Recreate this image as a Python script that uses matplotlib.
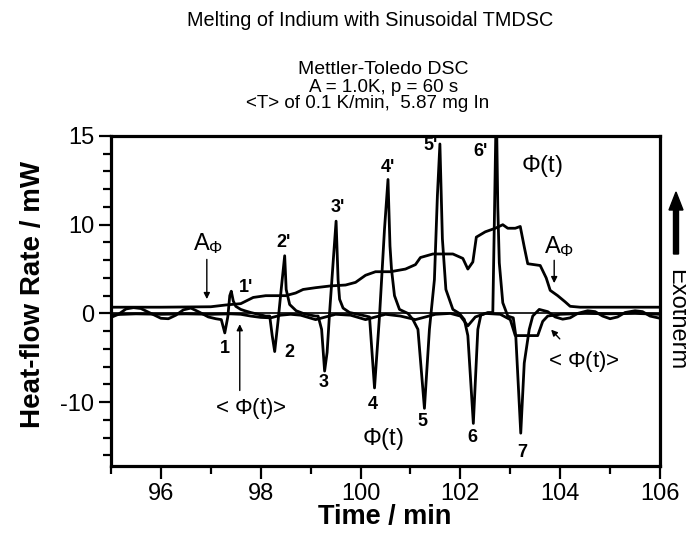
import matplotlib
matplotlib.use('Agg')
import matplotlib.pyplot as plt
from matplotlib.patches import FancyArrow
from matplotlib.ticker import MultipleLocator

plt.rcParams['font.family'] = ['Liberation Sans', 'DejaVu Sans']
plt.rcParams['mathtext.fontset'] = 'custom'
plt.rcParams['mathtext.rm'] = 'Liberation Sans'
plt.rcParams['mathtext.it'] = 'Liberation Sans:italic'
plt.rcParams['mathtext.bf'] = 'Liberation Sans:bold'

# modulated heat-flow rate Phi(t) (time in min, mW)
phi_time = [95.0, 95.15, 95.3, 95.45, 95.6, 95.8, 96.0, 96.15, 96.3, 96.45, 96.6, 96.75,
            96.95, 97.1, 97.21, 97.28, 97.34, 97.38, 97.41, 97.45, 97.5, 97.6, 97.68, 97.8,
            97.95, 98.1, 98.18, 98.23, 98.28, 98.35, 98.41, 98.48, 98.51, 98.58, 98.71, 98.85,
            99.0, 99.1, 99.15, 99.22, 99.28, 99.33, 99.38, 99.45, 99.51, 99.55, 99.58, 99.65,
            99.78, 99.95, 100.11, 100.18, 100.28, 100.38, 100.48, 100.55, 100.59, 100.62, 100.68,
            100.78, 100.95, 101.05, 101.15, 101.28, 101.38, 101.48, 101.54, 101.59, 101.64,
            101.71, 101.85, 101.98, 102.08, 102.15, 102.26, 102.35, 102.41, 102.55, 102.65,
            102.68, 102.72, 102.75, 102.78, 102.85, 102.95, 103.06, 103.11, 103.21, 103.28,
            103.38, 103.45, 103.58, 103.75, 103.9, 104.05, 104.2, 104.35, 104.55, 104.7,
            104.85, 105.0, 105.15, 105.3, 105.5, 105.65, 105.8, 106.0]
phi_flow = [-0.45, -0.1, 0.5, 0.65, 0.55, 0.0, -0.55, -0.6, -0.2, 0.4, 0.6, 0.2,
            -0.4, -0.6, -0.7, -2.2, -0.4, 2.0, 2.5, 1.4, 0.8, 0.45, 0.3, 0.1,
            -0.1, -0.3, -0.3, -2.5, -4.3, -0.7, 2.7, 6.5, 2.7, 1.0, 0.3, 0.0,
            -0.2, -0.3, -0.3, -1.8, -6.5, -4.4, 0.1, 5.7, 10.4, 3.8, 1.6, 0.6,
            0.1, -0.1, -0.3, -0.4, -8.4, -0.3, 9.5, 15.1, 7.6, 5.0, 2.0,
            0.45, 0.0, -0.7, -1.8, -10.7, -1.8, 3.8, 13.3, 19.1, 8.4,
            2.7, 0.45, 0.0, -0.7, -2.5, -12.4, -1.8, -0.2, 0.1, 0.1,
            10.0, 24.0, 12.0, 5.7, 1.2, -0.3, -0.5, -2.5, -13.5, -5.6,
            -1.8, -0.3, 0.45, 0.2, -0.4, -0.65, -0.5, 0.0, 0.3, 0.2,
            -0.3, -0.6, -0.4, 0.1, 0.3, 0.2, -0.3, -0.55]

# average heat-flow rate <Phi(t)>
mean_time = [95.0, 95.5, 96.0, 96.5, 97.0, 97.4, 97.6, 97.8, 98.0, 98.2, 98.4, 98.6,
             98.8, 99.1, 99.3, 99.5, 99.8, 100.1, 100.3, 100.5, 100.8, 101.1, 101.3,
             101.5, 101.8, 102.0, 102.15, 102.3, 102.5, 102.8, 103.0, 103.1, 103.55,
             103.65, 103.75, 104.0, 104.5, 105.0, 105.5, 106.0]
mean_flow = [-0.15, -0.05, -0.1, -0.05, -0.1, -0.05, -0.1, -0.3, -0.45, -0.5, -0.2, -0.1,
             -0.2, -0.7, -0.4, -0.1, -0.2, -0.7, -0.4, -0.1, -0.3, -0.7, -0.4,
             -0.1, 0.0, -0.3, -1.4, -0.4, 0.0, -0.1, -0.7, -2.5, -2.5,
             -0.9, -0.3, -0.1, 0.0, -0.05, 0.0, -0.1]

# amplitude of the heat-flow rate A_Phi
amp_time = [95.0, 96.0, 97.0, 97.3, 97.6, 97.85, 98.1, 98.5, 98.7, 98.85, 99.1, 99.4,
            99.7, 99.9, 100.1, 100.3, 100.6, 100.9, 101.1, 101.2, 101.45, 101.85, 102.05,
            102.15, 102.25, 102.32, 102.5, 102.7, 102.85, 102.95, 103.1, 103.2, 103.28,
            103.35, 103.6, 103.72, 103.8, 103.95, 104.1, 104.2, 104.4, 106.0]
amp_flow = [0.7, 0.7, 0.75, 0.95, 1.1, 1.8, 2.0, 2.0, 2.3, 2.7, 2.9, 3.1,
            3.2, 3.5, 4.3, 4.7, 4.7, 5.0, 5.5, 6.3, 6.7, 6.7, 6.2,
            5.0, 5.8, 8.6, 9.2, 9.6, 10.0, 9.6, 9.6, 9.8, 7.5,
            5.6, 5.4, 4.0, 2.6, 2.0, 1.3, 0.8, 0.7, 0.7]

# peak labels
up_labels = ["1'", "2'", "3'", "4'", "5'", "6'"]
down_labels = ["1", "2", "3", "4", "5", "6", "7"]
up_label_pos = [(97.71, 2.9), (98.45, 8.0), (99.55, 11.9), (100.55, 16.5),
                (101.41, 18.9), (102.41, 18.3)]
down_label_pos = [(97.28, -3.9), (98.57, -4.4), (99.26, -7.8), (100.25, -10.3),
                  (101.25, -12.2), (102.25, -14.0), (103.25, -15.7)]

# y ticks: the original axis is labelled 15 at the top tick
ytick_vals = [-10, 0, 10, 20]
ytick_text = ['-10', '0', '10', '15']

fig = plt.figure(figsize=(6.86, 5.35), dpi=100)
ax = fig.add_axes([0.1618, 0.129, 0.8003, 0.6168])

ax.axhline(0, color='black', lw=1.2)
ax.plot(phi_time, phi_flow, color='black', lw=2.0)
ax.plot(mean_time, mean_flow, color='black', lw=2.0)
ax.plot(amp_time, amp_flow, color='black', lw=2.0)

ax.set_xlim(95, 106)
ax.set_ylim(-17.2, 20)
ax.set_xticks(range(96, 107, 2))
ax.xaxis.set_minor_locator(MultipleLocator(1))
ax.set_yticks(ytick_vals)
ax.set_yticklabels(ytick_text)
ax.yaxis.set_minor_locator(MultipleLocator(2))
ax.tick_params(which='major', length=9, width=1.6, labelsize=17, pad=3)
ax.tick_params(which='minor', length=6, width=1.6)
for s in ax.spines.values():
    s.set_linewidth(2.3)

# peak numbering
for lab, (x, y) in zip(up_labels, up_label_pos):
    ax.text(x, y, lab, ha='center', va='center', fontsize=13, fontweight='bold')
for lab, (x, y) in zip(down_labels, down_label_pos):
    ax.text(x, y, lab, ha='center', va='center', fontsize=13, fontweight='bold')

# curve labels and arrows
arrow = dict(arrowstyle='-|>', color='black', lw=1.0, mutation_scale=9)
ax.text(96.95, 7.9, r'A$_{\Phi}$', ha='center', va='center', fontsize=17)
ax.annotate('', xy=(96.92, 1.3), xytext=(96.92, 6.4), arrowprops=arrow)
ax.text(103.98, 7.5, r'A$_{\Phi}$', ha='center', va='center', fontsize=17)
ax.annotate('', xy=(103.88, 3.1), xytext=(103.88, 6.3), arrowprops=arrow)

ax.text(97.81, -10.7, r'< $\Phi$(t)>', ha='center', va='center', fontsize=16)
ax.annotate('', xy=(97.58, -0.9), xytext=(97.58, -9.0), arrowprops=arrow)
ax.text(104.48, -5.4, r'< $\Phi$(t)>', ha='center', va='center', fontsize=16)
ax.annotate('', xy=(103.78, -1.6), xytext=(104.03, -3.1), arrowprops=arrow)

ax.text(103.63, 16.6, r'$\Phi$(t)', ha='center', va='center', fontsize=17)
ax.text(100.44, -14.2, r'$\Phi$(t)', ha='center', va='center', fontsize=17)

fig.text(385 / 686, 1 - 517 / 535, 'Time / min', ha='center', va='center',
         fontsize=19.5, fontweight='bold')
fig.text(33 / 686, 1 - 294 / 535, 'Heat-flow Rate / mW', rotation=90, ha='center',
         va='center', fontsize=20, fontweight='bold')

fig.text(370 / 686, 1 - 20 / 535, 'Melting of Indium with Sinusoidal TMDSC',
         ha='center', va='center', fontsize=14.3)
fig.text(383 / 686, 1 - 70 / 535, 'Mettler-Toledo DSC', ha='center', va='center', fontsize=14)
fig.text(384 / 686, 1 - 87 / 535, 'A = 1.0K, p = 60 s', ha='center', va='center', fontsize=13.5)
fig.text(368 / 686, 1 - 103 / 535, '<T> of 0.1 K/min,  5.87 mg In', ha='center',
         va='center', fontsize=13.5)

# exotherm direction
fig.text(676 / 686, 1 - 320 / 535, 'Exotherm', rotation=270, ha='center', va='center',
         fontsize=17)
fig.patches.append(FancyArrow(
    676 / 686, 1 - 254 / 535, 0, 62 / 535, width=5 / 686, head_width=14 / 686,
    head_length=18 / 535, length_includes_head=True, color='black',
    transform=fig.transFigure, figure=fig))

fig.savefig('out.png', dpi=100)
